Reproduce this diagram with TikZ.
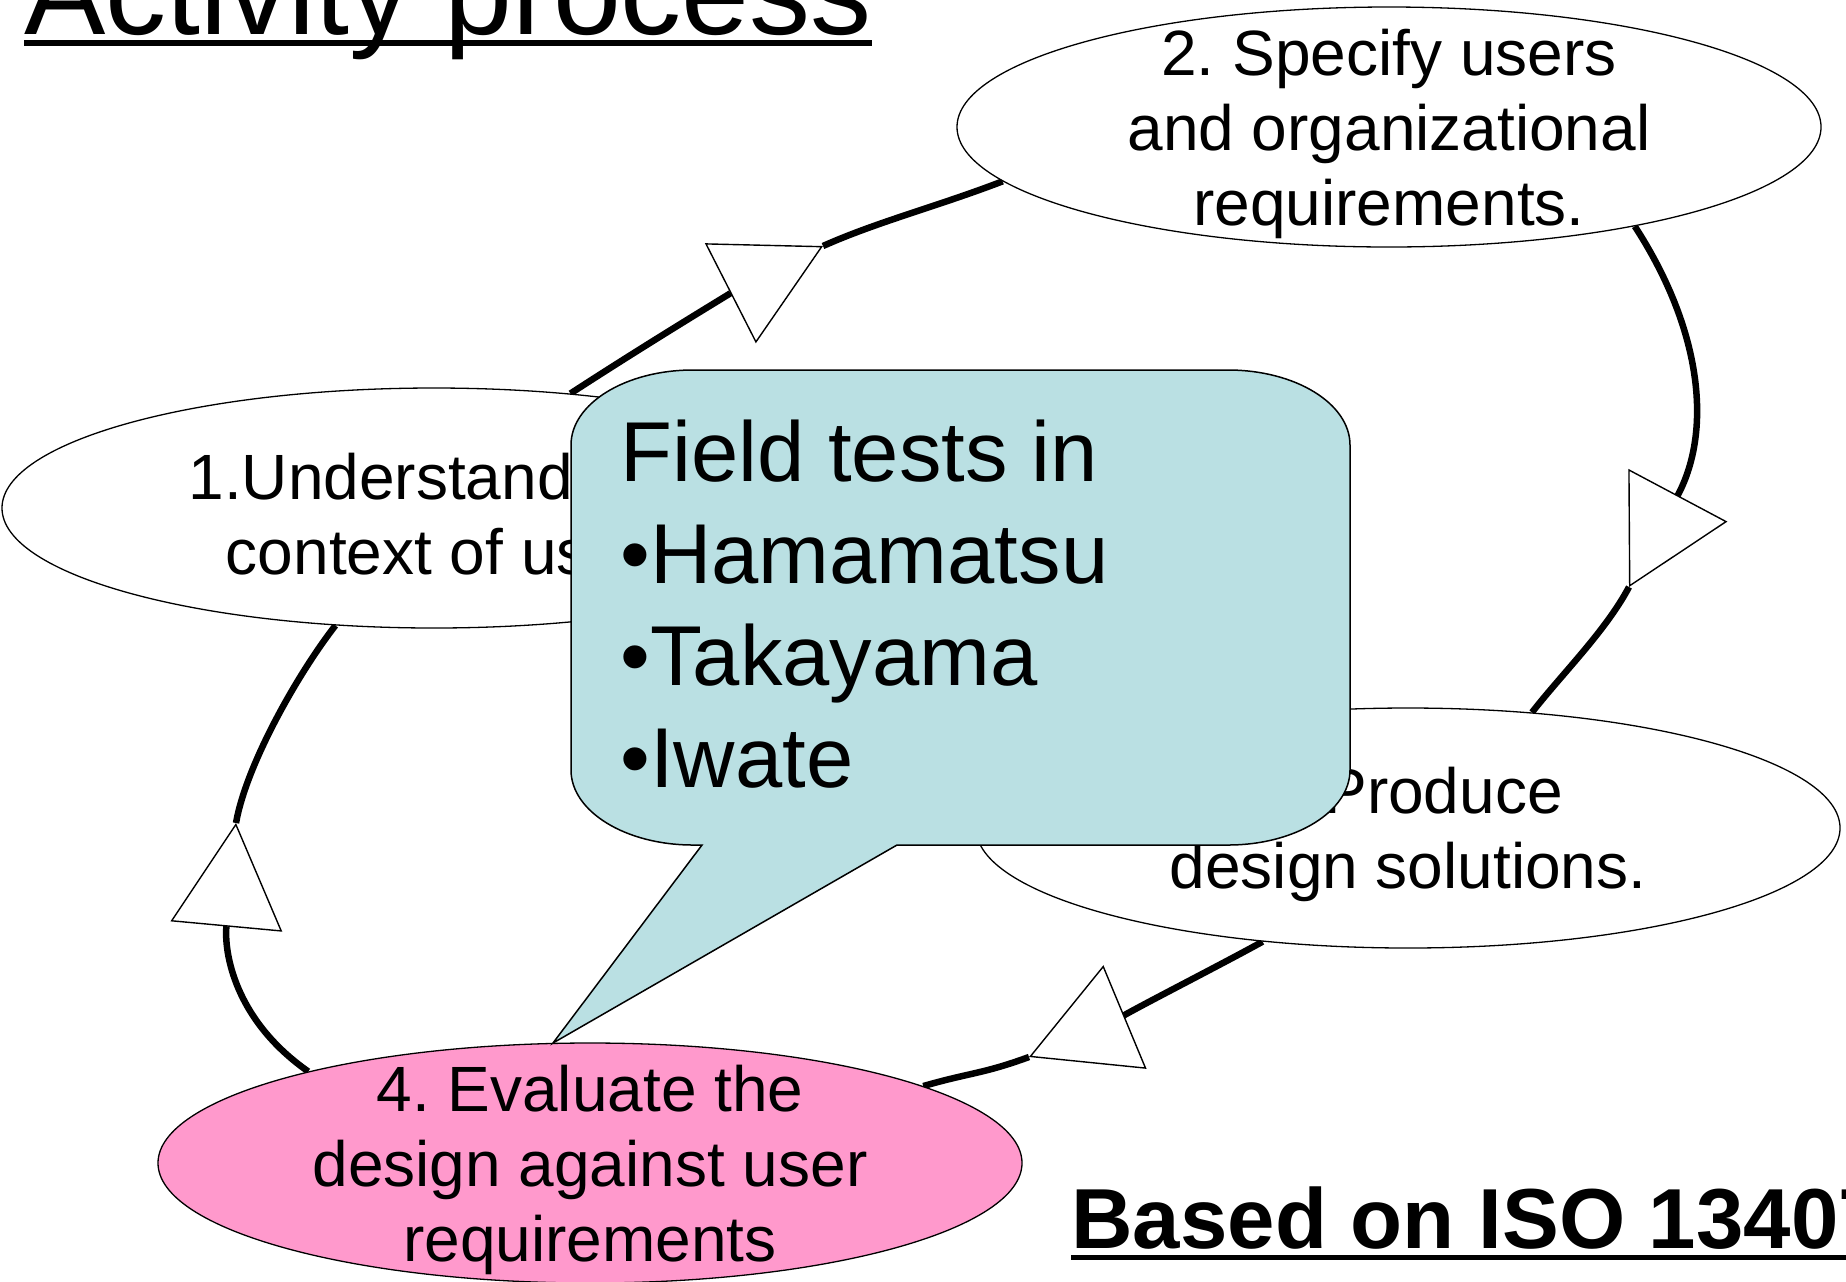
\documentclass[tikz,border=0pt]{standalone}
\usepackage{fontspec}
\setmainfont{Liberation Sans}
\frenchspacing
\usetikzlibrary{arrows.meta,shapes.geometric,backgrounds}
\definecolor{calloutblue}{RGB}{186,224,227}
\definecolor{stagepink}{RGB}{255,153,204}

\begin{document}
\begin{tikzpicture}[x=0.5pt,y=0.5pt,
  stage/.style={draw,ellipse,line width=0.65pt,fill=white,minimum width=432pt,minimum height=120pt,inner sep=0pt},
  stagetext/.style={align=center,font=\fontsize{32}{37.5}\selectfont,yshift=-3.25pt},
  cycleline/.style={line width=3.25pt},
  flowhead/.style={-{Triangle[length=52pt,width=56pt,fill=white,line width=0.7pt]}}]
\useasboundingbox (0,0) rectangle (1846,-1281);
\clip (0,0) rectangle (1846,-1281);

\node[stage,label={[stagetext]center:{1.Understand the\\context of use.}}] (understand) at (434,-508) {};
\node[stage,label={[stagetext]center:{2. Specify users\\and organizational\\requirements.}}] (specify) at (1389,-127) {};
\node[stage,label={[stagetext]center:{3. Produce\\design solutions.}}] (produce) at (1408,-828) {};
\node[stage,fill=stagepink,label={[stagetext]center:{4. Evaluate the\\design against user\\requirements}}] (evaluate) at (590,-1163) {};

\coordinate (tip12) at (823,-246);
\coordinate (tip23) at (1629,-587);
\coordinate (tip34) at (1029,-1057);
\coordinate (tip41) at (236,-823);

\begin{scope}[on background layer]
\draw[cycleline] (tip12) .. controls +(24:60) and +(201:70) .. (specify.188);
\draw[cycleline,flowhead] (understand.40) .. controls +(33:100) and +(207:100) .. (tip12);
\draw[cycleline] (tip23) .. controls +(242:50) and +(52:50) .. (produce.43);
\draw[cycleline,flowhead] (specify.338) .. controls +(-57:120) and +(62:180) .. (tip23);
\draw[cycleline] (tip34) .. controls +(200:50) and +(16:50) .. (evaluate.13);
\draw[cycleline,flowhead] (produce.218) .. controls +(209:60) and +(22.6:60) .. (tip34);
\draw[cycleline] (tip41) .. controls +(80:60) and +(232:60) .. (understand.230);
\draw[cycleline,flowhead] (evaluate.162) .. controls +(145:90) and +(264.7:130) .. (tip41);
\end{scope}

\draw[line width=0.75pt,fill=calloutblue] (702,-845) -- (553,-1043) -- (897,-845) -- (1228,-845)
  arc[start angle=270,end angle=360,x radius=61pt,y radius=37.5pt] -- (1350,-445)
  arc[start angle=0,end angle=90,x radius=61pt,y radius=37.5pt] -- (693,-370)
  arc[start angle=90,end angle=180,x radius=61pt,y radius=37.5pt] -- (571,-770)
  arc[start angle=180,end angle=270,x radius=61pt,y radius=37.5pt] -- cycle;
\node[anchor=north west,inner sep=0pt,align=left,font=\fontsize{42.5}{51}\selectfont] (fieldtests)
  at (620,-419) {Field tests in\\•Hamamatsu\\•Takayama\\•Iwate};

\node[anchor=base west,inner sep=0pt,font=\fontsize{61}{70}\selectfont] (title) at (24,-34) {Activity process};
\draw[line width=3pt] ([yshift=-4.5pt]title.base west) -- ([yshift=-4.5pt]title.base east);
\node[anchor=base west,inner sep=0pt,font=\bfseries\fontsize{42.6}{52}\selectfont] (basedon) at (1071,-1248) {Based on ISO 13407};
\draw[line width=2.5pt] ([yshift=-4.5pt]basedon.base west) -- ([yshift=-4.5pt]basedon.base east);
\end{tikzpicture}
\end{document}
